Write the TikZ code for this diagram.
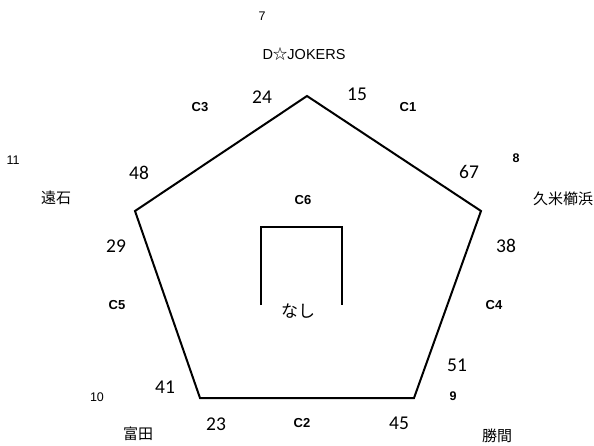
\documentclass[tikz,border=0pt]{standalone}
\usepackage{fontspec}
\setmainfont{Liberation Sans}
\newfontfamily\jpfont{Noto Sans CJK JP}
\newfontfamily\numfont{Carlito}
\usetikzlibrary{positioning}

\begin{document}
\begin{tikzpicture}[
    x=1pt, y=-1pt,
    every node/.style={inner sep=0pt},
    score/.style={font=\numfont\fontsize{19.5}{19.5}\selectfont},
    seed/.style={font=\fontsize{12.5}{12.5}\selectfont},
    seedb/.style={font=\bfseries\fontsize{12.5}{12.5}\selectfont},
    match/.style={font=\bfseries\fontsize{13}{13}\selectfont},
    team/.style={font=\jpfont\fontsize{15}{15}\selectfont},
    edge/.style={line width=2pt, line join=miter},
]
\useasboundingbox (0,0) rectangle (594,446);
% corners of the pentagon
\coordinate (top) at (307,96);
\coordinate (rgt) at (481,211);
\coordinate (brt) at (414,398);
\coordinate (blf) at (200,398);
\coordinate (lft) at (135,211);
\draw[edge] (top) -- (rgt) -- (brt) -- (blf) -- (lft) -- cycle;
% inner bracket
\coordinate (in1) at (261,305);
\coordinate (in2) at (261,227);
\coordinate (in3) at (342,227);
\coordinate (in4) at (342,305);
\draw[edge] (in1) -- (in2) -- (in3) -- (in4);
% teams and seeds
\node[seed] (s7) at (262,16) {7};
\node[font=\fontsize{14.5}{14.5}\selectfont] (dj) at (304,54) {D{\jpfont ☆}JOKERS};
\node[seed] (s11) at (13,160) {11};
\node[team] (tois) at (56,198) {遠石};
\node[seedb] (s8) at (516,158) {8};
\node[team] (kume) at (563,199) {久米櫛浜};
\node[seed] (s10) at (97,397) {10};
\node[team] (tond) at (138,434) {富田};
\node[seedb] (s9) at (453,396) {9};
\node[team] (katu) at (497,436) {勝間};
% scores
\node[score] (n24) at (262,97) {24};
\node[score] (n15) at (357,94) {15};
\node[score] (n48) at (139,173) {48};
\node[score] (n67) at (469,172) {67};
\node[score] (n29) at (116,246) {29};
\node[score] (n38) at (506,246) {38};
\node[score] (n51) at (457,365) {51};
\node[score] (n41) at (165,387) {41};
\node[score] (n23) at (216,424) {23};
\node[score] (n45) at (399,423) {45};
% match labels
\node[match] (c1) at (408,107) {C1};
\node[match] (c2) at (302,423) {C2};
\node[match] (c3) at (200,107) {C3};
\node[match] (c4) at (494,305) {C4};
\node[match] (c5) at (117,305) {C5};
\node[match] (c6) at (303,200) {C6};
\node[team, font=\jpfont\fontsize{17}{17}\selectfont] (nasi) at (298,311) {なし};
\end{tikzpicture}
\end{document}
